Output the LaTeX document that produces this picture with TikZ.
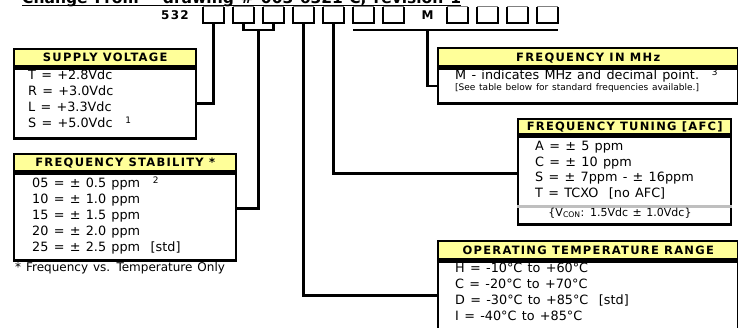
\documentclass[tikz,border=0pt]{standalone}
\usepackage{fontspec}
\setmainfont{DejaVu Sans}[WordSpace=1.3]
\newfontfamily\spacedfont[LetterSpace=11]{DejaVu Sans}
\usetikzlibrary{calc}
\definecolor{hdryellow}{RGB}{255,255,153}
\begin{document}
\begin{tikzpicture}[x=1pt,y=-1pt,
  wire/.style={line width=2.4pt},
  digitbox/.style={minimum width=20pt,minimum height=16pt,inner sep=0pt},
  hdrbox/.style={draw,line width=2.4pt,fill=hdryellow,anchor=north west,inner sep=0pt,
    minimum height=17pt,text height=8.4pt,text depth=0pt,font=\fontsize{11.5}{13}\spacedfont\bfseries},
  bodybox/.style={draw,line width=2.4pt,anchor=north west,inner sep=0pt},
  bodytext/.style={anchor=base west,inner sep=0pt,font=\fontsize{12.8}{16}\selectfont}]
\useasboundingbox (0,0) rectangle (738,327);
% title, cut at the top
\node[anchor=base west,inner sep=0pt,font=\fontsize{15.5}{17}\selectfont\bfseries] (title) at (22,3) {Change From " drawing \# 003-6321-C, revision 1};
\draw[line width=1.2pt] ([yshift=-2.5pt]title.base west) -- ([yshift=-2.5pt]title.base east);
% part number boxes
\node[anchor=east,inner sep=0pt,font=\fontsize{12}{14}\spacedfont\bfseries] (pn) at (189,15) {532};
\foreach \n in {1,...,7}
\node[digitbox] (d\n) at ({213.5+30*(\n-1)},15) {};
\node[inner sep=0pt,font=\fontsize{12}{14}\selectfont\bfseries] (mm) at (427.5,15) {M};
\foreach \n in {1,...,4}
\node[digitbox] (e\n) at ({457.5+30*(\n-1)},15) {};
\foreach \b in {d1,d2,d3,d4,d5,d6,d7,e1,e2,e3,e4} {
\draw[line width=2pt] (\b.north west) -- (\b.south west) -- (\b.south east) -- (\b.north east);
\draw[gray,line width=1pt] (\b.north west) -- (\b.north east);
}
% supply voltage
\node[hdrbox,minimum width=182pt] (svH) at (13,48) {SUPPLY VOLTAGE};
\node[bodybox,minimum width=182pt,minimum height=70pt] (sv) at (svH.south west) {};
\foreach \n/\texto in {0/{T = +2.8Vdc},1/{R = +3.0Vdc},2/{L = +3.3Vdc},3/{S = +5.0Vdc\quad\textsuperscript{1}}}
\node[bodytext] (sv\n) at (28,79.5+16*\n) {\texto};
% frequency stability
\node[hdrbox,minimum width=222pt] (fsH) at (13,153) {FREQUENCY STABILITY *};
\node[bodybox,minimum width=222pt,minimum height=87pt] (fs) at (fsH.south west) {};
\foreach \n/\texto in {0/{05 = ± 0.5 ppm\quad\textsuperscript{2}},1/{10 = ± 1.0 ppm},2/{15 = ± 1.5 ppm},3/{20 = ± 2.0 ppm},4/{25 = ± 2.5 ppm\ \ [std]}}
\node[bodytext] (fs\n) at (32,187.5+16*\n) {\texto};
\node[bodytext,font=\fontsize{12}{14}\selectfont] (fsnote) at (15,271) {* Frequency vs. Temperature Only};
% frequency in MHz
\node[hdrbox,minimum width=300pt,minimum height=18pt] (fmH) at (437,47) {FREQUENCY IN MHz};
\node[bodybox,minimum width=300pt,minimum height=35pt] (fm) at (fmH.south west) {};
\node[bodytext] (fm0) at (455,79.5) {M - indicates MHz and decimal point.\quad\textsuperscript{3}};
\node[bodytext,font=\fontsize{9}{10}\selectfont] (fm1) at (455,90.5) {[See table below for standard frequencies available.]};
% frequency tuning
\node[hdrbox,minimum width=213pt,minimum height=15pt] (ftH) at (517,118) {FREQUENCY TUNING [AFC]};
\node[bodybox,minimum width=213pt,minimum height=88pt] (ft) at (ftH.south west) {};
\foreach \n/\texto in {0/{A = ± 5 ppm},1/{C = ± 10 ppm},2/{S = ± 7ppm - ± 16ppm},3/{T = TCXO\ \ [no AFC]}}
\node[bodytext] (ft\n) at (535,150.5+15.7*\n) {\texto};
\draw[gray!50,line width=2.4pt] ([yshift=-71pt]ft.north west) -- ([yshift=-71pt]ft.north east);
\node[bodytext,anchor=base,font=\fontsize{11}{13}\selectfont] (ftv) at (620,216) {\{V\textsubscript{CON}: 1.5Vdc ± 1.0Vdc\}};
% operating temperature
\node[hdrbox,minimum width=300pt,minimum height=18pt] (otH) at (437,240) {OPERATING TEMPERATURE RANGE};
\node[bodybox,minimum width=300pt,minimum height=72pt] (ot) at (otH.south west) {};
\foreach \n/\texto in {0/{H = -10°C to +60°C},1/{C = -20°C to +70°C},2/{D = -30°C to +85°C\ \ [std]},3/{I = -40°C to +85°C}}
\node[bodytext] (ot\n) at (455,272.5+16*\n) {\texto};
% connectors
\draw[wire] (d1.south) |- (sv.east);
\draw[wire] (d2.south) -- ++(0,7) -| (d3.south);
\coordinate (brk) at ($(d2.south)!0.5!(d3.south)+(0,7)$);
\draw[wire] (brk) |- ([yshift=8.5pt]fs.east);
\draw[wire] (d4.south) |- ([yshift=2pt]ot.west);
\draw[wire] (d5.south) |- ([yshift=7pt]ft.west);
\draw[wire] ([yshift=-7pt]d6.south west) -- ([yshift=-7pt]e4.south east);
\draw[wire] (mm |- brk) |- (fm.west);
\end{tikzpicture}
\end{document}
